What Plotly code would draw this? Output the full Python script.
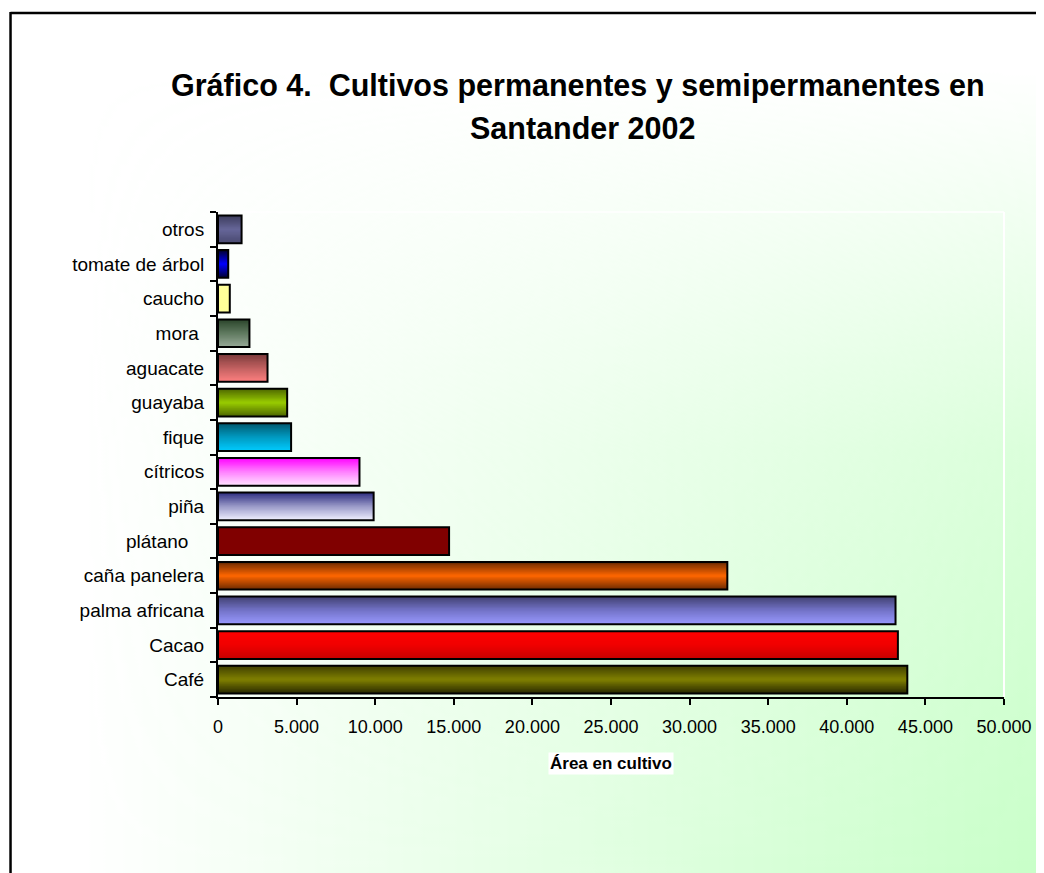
import base64
import plotly.graph_objects as go

# ---------------- data ----------------
categories = ["Café", "Cacao", "palma africana", "caña panelera", "plátano\u00a0\u00a0\u00a0",
              "piña", "cítricos", "fique", "guayaba", "aguacate", "mora\u00a0",
              "caucho", "tomate de árbol", "otros"]
area = [43850, 43250, 43100, 32400, 14700, 9900, 9000, 4650, 4400, 3150, 2000, 750, 650, 1500]
x_ticks = [0, 5000, 10000, 15000, 20000, 25000, 30000, 35000, 40000, 45000, 50000]

title_line1 = "Gráfico 4.  Cultivos permanentes y semipermanentes en"
title_line2 = "Santander 2002"
x_title = "Área en cultivo"

# ---------------- styles (bar gradient stops: bottom, middle, top) ----------------
col_bot = ["#262600", "#c80000", "#9999ff", "#6b2a00", "#800000", "#f2f2ff", "#ffe6ff",
           "#00ccff", "#4d6600", "#ff8080", "#99ab99", "#ffff99", "#000030", "#4a4a70"]
col_mid = ["#808000", "#f00000", "#7373c8", "#ff6600", "#800000", "#9a9ac8", "#ff80ff",
           "#0099c0", "#99cc00", "#c06060", "#607a60", "#ffff99", "#0000ff", "#666699"]
col_top = ["#404000", "#ff0000", "#404070", "#6b2a00", "#800000", "#2e2e80", "#ff00ff",
           "#005a70", "#4d6600", "#7a3a3a", "#2a442a", "#ffff99", "#000030", "#3d3d5c"]

OFF = 8  # default page margin of the html body
W, H = 1044 - OFF, 873 - OFF
# plot area in screen coords: x 218..1006, y 212..697
ML, MT = 218 - OFF, 212 - OFF
MR = W - (1006 - OFF)
MB = H - (697 - OFF)
PW, PH = W - ML - MR, H - MT - MB


def xp(px):  # screen px -> paper
    return (px - OFF - ML) / PW


def yp(py):
    return (H - MB - (py - OFF)) / PH


def hex2rgb(h):
    h = h.lstrip("#")
    return [int(h[i:i + 2], 16) for i in (0, 2, 4)]


def mix(c1, c2, t):
    a, b = hex2rgb(c1), hex2rgb(c2)
    return "rgb(%d,%d,%d)" % tuple(round(a[k] + (b[k] - a[k]) * t) for k in range(3))


def grad_color(j, t):
    if t <= 0.5:
        return mix(col_bot[j], col_mid[j], t / 0.5)
    return mix(col_mid[j], col_top[j], (t - 0.5) / 0.5)


fig = go.Figure()

BW = 0.8
N = 24
for i in range(N):
    t = (i + 0.5) / N
    off = -BW / 2 + i * BW / N
    fig.add_trace(go.Bar(
        x=area, y=categories, orientation="h",
        width=BW - i * BW / N, offset=off,
        marker=dict(color=[grad_color(j, t) for j in range(len(categories))],
                    line=dict(width=0)),
        hoverinfo="skip", showlegend=False,
    ))

# outline
fig.add_trace(go.Bar(
    x=area, y=categories, orientation="h", width=BW, offset=-BW / 2,
    marker=dict(color="rgba(0,0,0,0)", line=dict(color="black", width=2)),
    showlegend=False,
))

# background gradient (svg), in figure coordinates
gx0 = (80 - OFF) / W
gy0 = (70 - OFF) / H
gym = (450 - OFF) / H
svg = f'''<svg xmlns="http://www.w3.org/2000/svg" width="{W}" height="{H}" viewBox="0 0 {W} {H}">
<defs>
<linearGradient id="h" x1="{gx0}" y1="0" x2="1" y2="0"><stop offset="0" stop-color="black"/><stop offset="1" stop-color="white"/></linearGradient>
<linearGradient id="v" x1="0" y1="0" x2="0" y2="1"><stop offset="{gy0}" stop-color="black"/><stop offset="{gym}" stop-color="rgb(170,170,170)"/><stop offset="1" stop-color="white"/></linearGradient>
<mask id="mh"><rect x="0" y="0" width="{W}" height="{H}" fill="url(#h)"/></mask>
<mask id="mv"><rect x="0" y="0" width="{W}" height="{H}" fill="url(#v)"/></mask>
</defs>
<rect x="0" y="0" width="{W}" height="{H}" fill="#ffffff"/>
<g mask="url(#mv)"><rect x="0" y="0" width="{W}" height="{H}" fill="#c8ffc8" mask="url(#mh)"/></g>
</svg>'''
src = "data:image/svg+xml;base64," + base64.b64encode(svg.encode()).decode()

fig.update_layout(
    width=W, height=H, autosize=False,
    margin=dict(l=ML, r=MR, t=MT, b=MB, pad=0),
    paper_bgcolor="white", plot_bgcolor="rgba(0,0,0,0)",
    barmode="overlay",
    separators=",.",
    font=dict(family="Liberation Sans, Arial, sans-serif", color="black"),
    images=[dict(source=src, xref="paper", yref="paper", x=xp(OFF), y=yp(OFF),
                 sizex=W / PW, sizey=H / PH, sizing="stretch", layer="below",
                 xanchor="left", yanchor="top")],
    xaxis=dict(range=[0, 50000], tickvals=x_ticks, tickformat=",d",
               showgrid=False, zeroline=False, showline=True, linecolor="black",
               linewidth=2, ticks="outside", ticklen=6, tickwidth=2, tickcolor="black",
               tickfont=dict(size=18), ticklabelstandoff=6),
    yaxis=dict(type="category", categoryorder="array", categoryarray=categories,
               range=[-0.5, len(categories) - 0.5], tickson="boundaries",
               showgrid=False, zeroline=False, showline=True, linecolor="black",
               linewidth=2, ticks="outside", ticklen=6, tickwidth=2, tickcolor="black",
               tickfont=dict(size=19), ticklabelstandoff=8),
    annotations=[
        dict(text=title_line1, xref="paper", yref="paper", x=xp(579), y=yp(85),
             xanchor="center", yanchor="middle", showarrow=False,
             font=dict(size=30.5, weight="bold")),
        dict(text=title_line2, xref="paper", yref="paper", x=xp(583), y=yp(128),
             xanchor="center", yanchor="middle", showarrow=False,
             font=dict(size=30.5, weight="bold")),
        dict(text=x_title, xref="paper", yref="paper", x=xp(612), y=yp(763),
             xanchor="center", yanchor="middle", showarrow=False,
             bgcolor="white", borderpad=1,
             font=dict(size=17, weight="bold")),
    ],
    shapes=[
        dict(type="line", xref="paper", yref="paper", x0=xp(10), x1=xp(1050),
             y0=yp(13), y1=yp(13), line=dict(color="black", width=2.5)),
        dict(type="line", xref="paper", yref="paper", x0=xp(10), x1=xp(10),
             y0=yp(12), y1=yp(880), line=dict(color="black", width=2.5)),
        dict(type="line", xref="paper", yref="paper", x0=xp(1006), x1=xp(1006),
             y0=0, y1=1, line=dict(color="white", width=2)),
        dict(type="line", xref="paper", yref="paper", x0=0, x1=1,
             y0=1, y1=1, line=dict(color="white", width=1.5)),
    ],
)

fig.write_html("out.html")
